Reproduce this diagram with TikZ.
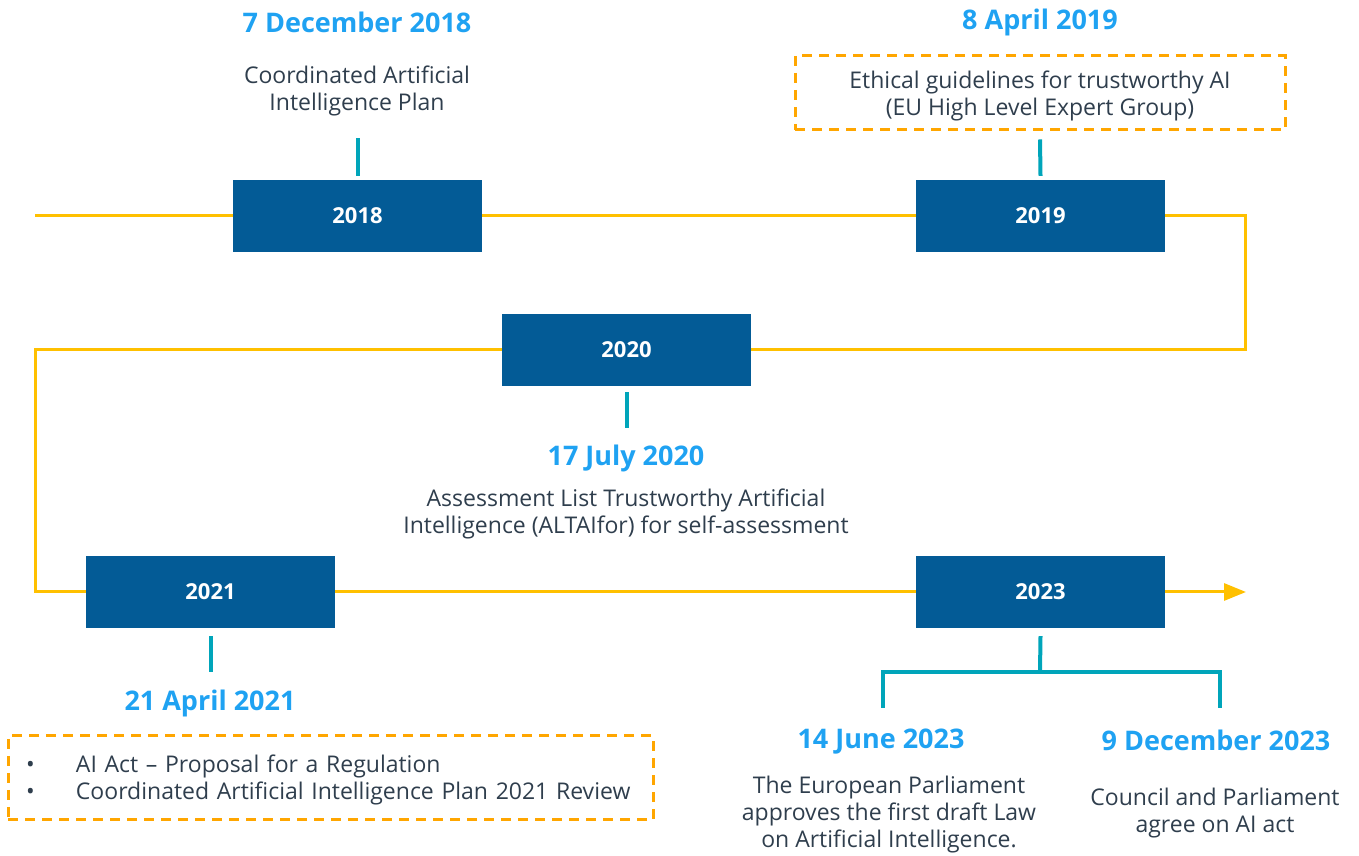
\documentclass[tikz,border=0pt]{standalone}
\usepackage{fontspec}
\setmainfont{Open Sans}
\usetikzlibrary{arrows.meta}
\definecolor{yearblue}{HTML}{035B96}
\definecolor{dateblue}{HTML}{1FA2F2}
\definecolor{notegray}{HTML}{2F3E4D}
\definecolor{trackyellow}{HTML}{FFC000}
\definecolor{tickteal}{HTML}{00A5BA}
\definecolor{boxorange}{HTML}{FFA600}
\tikzset{
  year/.style={fill=yearblue, text=white, font=\bfseries\fontsize{22}{26}\selectfont,
    minimum width=249pt, minimum height=72pt, inner sep=0pt},
  date/.style={text=dateblue, font=\bfseries\fontsize{27}{31}\selectfont, inner sep=0pt},
  note/.style={text=notegray, align=center, font=\fontsize{23}{27}\selectfont, inner sep=0pt},
  track/.style={draw=trackyellow, line width=3pt},
  tick/.style={draw=tickteal, line width=4pt},
  dashbox/.style={draw=boxorange, line width=3pt, dash pattern=on 10pt off 7pt},
}
\begin{document}
\begin{tikzpicture}[x=1pt, y=1pt]
\useasboundingbox (0,0) rectangle (1359,856);
% year boxes
\node[year] (y18) at (357.5,640) {2018};
\node[year] (y19) at (1040.5,640) {2019};
\node[year] (y20) at (626.5,506) {2020};
\node[year] (y21) at (210.5,264) {2021};
\node[year] (y23) at (1040.5,264) {2023};
% the yellow track
\coordinate (start) at (35,640);
\coordinate (rt) at (1245,570);
\coordinate (lt) at (35,400);
\coordinate (end) at (1246,264);
\draw[track] (start) -- (y18.west);
\draw[track] (y18.east) -- (y19.west);
\draw[track] (y19.east) -| (rt) |- (y20.east);
\draw[track] (y20.west) -| (lt) |- (y21.west);
\draw[track] (y21.east) -- (y23.west);
\draw[track, -{Triangle[length=22pt, width=17pt]}] (y23.east) -- (end);
% events
\node[date] (d18) at (357,834) {7 December 2018};
\node[note] (n18) at (357,765) {Coordinated Artificial\\Intelligence Plan};
\draw[tick] ([yshift=4pt]y18.north) -- ++(0,38);
\node[date] (d19) at (1040,834) {8 April 2019};
\node[dashbox, minimum width=490pt, minimum height=74pt] (n19) at (1040,763) {};
\node[note] (t19) at (1040,760)
  {Ethical guidelines for trustworthy AI\\(EU High Level Expert Group)};
\draw[tick] ([yshift=4pt]y19.north) -- ([yshift=-8pt]n19.south);
\draw[tick] ([yshift=-6pt]y20.south) -- ++(0,-36);
\node[date] (d20) at (626,398) {17 July 2020};
\node[note] (n20) at (626,342) {Assessment List Trustworthy Artificial\\Intelligence (ALTAIfor) for self-assessment};
\draw[tick] ([yshift=-8pt]y21.south) -- ++(0,-36);
\node[date] (d21) at (210,153) {21 April 2021};
\node[dashbox, minimum width=645pt, minimum height=84pt] (n21) at (330.5,78) {};
\node[note, align=left, text width=609pt] (t21) at (330.5,76)
  {\makebox[50pt][l]{\textbullet}AI Act – Proposal for a Regulation\\
   \makebox[50pt][l]{\textbullet}Coordinated Artificial Intelligence Plan 2021 Review};
% 2023 splits in two
\coordinate (fork) at (1040,184);
\coordinate (june) at (883,148);
\coordinate (dec) at (1220,148);
\draw[tick] ([yshift=-8pt]y23.south) -- (fork);
\draw[tick] (june) |- (fork) -| (dec);
\node[date] (d23a) at (881,114) {14 June 2023};
\node[note] (n23a) at (889,41) {The European Parliament\\approves the first draft Law\\on Artificial Intelligence.};
\node[date] (d23b) at (1216,116) {9 December 2023};
\node[note] (n23b) at (1215,43) {Council and Parliament\\agree on AI act};
\end{tikzpicture}
\end{document}
